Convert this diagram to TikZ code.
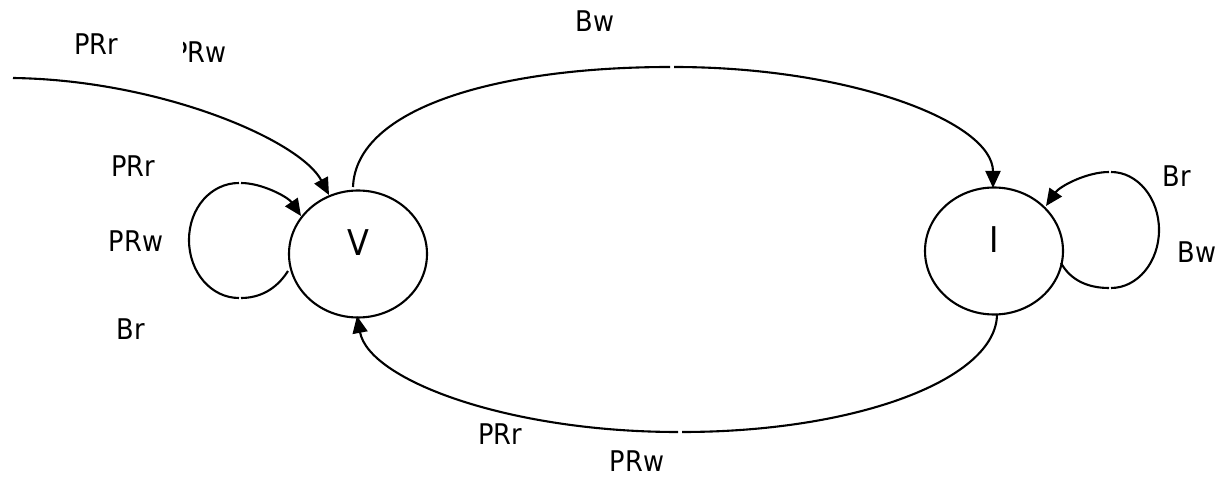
\documentclass[tikz,border=0pt]{standalone}
\usepackage{fontspec}
\setmainfont{DejaVu Sans}[FakeStretch=0.9]
\usetikzlibrary{arrows.meta,shapes.geometric,calc}
\begin{document}
\begin{tikzpicture}[x=1pt,y=1pt,
  state/.style={ellipse, draw, line width=2.1pt, minimum width=138pt, minimum height=127pt,
    inner sep=0pt, text depth=22pt, font=\fontsize{35.5}{40}\selectfont},
  lbl/.style={inner sep=0pt, font=\fontsize{28.5}{32}\selectfont},
  conn/.style={line width=2.1pt},
  arr/.style={conn, -{Triangle[length=17pt,width=15pt]}}
]
\useasboundingbox (0,0) rectangle (1221,-478);

% states
\node[state] (V) at (358,-254) {V};
\node[state] (I) at (994,-251) {I};

% labels
\node[lbl] (l1) at (96,-44) {PRr};
\begin{scope}
  \clip (183,-30) rectangle (240,-75);
  \node[lbl] (l2) at (199.5,-52.5) {PRw};
\end{scope}
\node[lbl] (l3) at (133,-166) {PRr};
\node[lbl] (l4) at (136,-241) {PRw};
\node[lbl] (l5) at (131,-329) {Br};
\node[lbl] (l6) at (595,-21) {Bw};
\node[lbl] (l7) at (1177,-176) {Br};
\node[lbl] (l8) at (1197,-252) {Bw};
\node[lbl] (l9) at (500,-434) {PRr};
\node[lbl] (l10) at (637,-461) {PRw};

% connector end points
\coordinate (tls) at (13,-78);
\coordinate (vtl) at ($(V.center)+(-29,59)$);
\coordinate (vt) at ($(V.center)+(-5,67)$);
\coordinate (tg1) at (670,-67);
\coordinate (tg2) at (674,-67);
\coordinate (it) at ($(I.center)+(-1,63)$);
\coordinate (ib) at ($(I.center)+(3,-63)$);
\coordinate (bg1) at (682,-432);
\coordinate (bg2) at (678,-432);
\coordinate (vb) at ($(V.center)+(-1,-62)$);
\coordinate (lla) at ($(V.center)+(-70,-17)$);
\coordinate (vll) at ($(V.center)+(-57,38)$);
\coordinate (lb1) at (241,-298);
\coordinate (lb2) at (239,-298);
\coordinate (lt1) at (239,-183);
\coordinate (lt2) at (241,-183);
\coordinate (ira) at ($(I.center)+(67,-12)$);
\coordinate (irt) at ($(I.center)+(52,45)$);
\coordinate (rb1) at (1109,-288);
\coordinate (rb2) at (1111,-288);
\coordinate (rt1) at (1111,-172);
\coordinate (rt2) at (1109,-172);

% incoming arrow
\draw[arr] (tls) .. controls (160,-80) and (300,-140) .. (vtl);

% top arc V -> I
\draw[conn] (vt) .. controls +(3,80) and +(-170,0) .. (tg1);
\draw[arr] (tg2) .. controls +(176,0) and +(0,66) .. (it);

% bottom arc I -> V
\draw[conn] (ib) .. controls +(0,-65) and +(175,0) .. (bg1);
\draw[arr] (bg2) .. controls +(-170,0) and +(12,-64) .. (vb);

% left self loop
\draw[conn] (lla) .. controls (276,-290) and (259,-298) .. (lb1);
\draw[conn] (lb2) .. controls (211,-298) and (189,-272) .. (189,-240)
  .. controls (189,-208) and (211,-183) .. (lt1);
\draw[arr] (lt2) .. controls (262,-183) and (288,-197) .. (vll);

% right self loop
\draw[conn] (ira) .. controls (1071,-281) and (1089,-288) .. (rb1);
\draw[conn] (rb2) .. controls (1137.5,-288) and (1159,-262) .. (1159,-230)
  .. controls (1159,-198) and (1137.5,-172) .. (rt1);
\draw[arr] (rt2) .. controls (1087,-172) and (1060,-186) .. (irt);
\end{tikzpicture}
\end{document}
